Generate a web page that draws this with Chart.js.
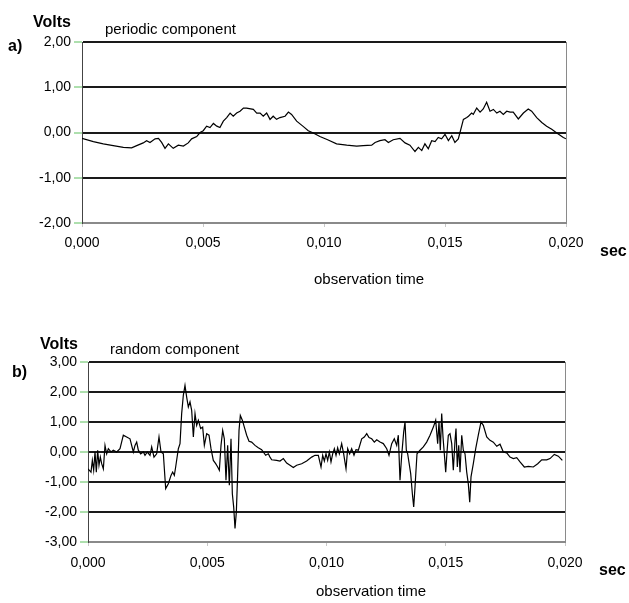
<!DOCTYPE html>
<html><head><meta charset="utf-8">
<script src="https://cdn.jsdelivr.net/npm/chart.js@4"></script>
<style>
html,body{margin:0;padding:0;background:#fff;}
body{width:629px;height:603px;position:relative;overflow:hidden;font-family:"Liberation Sans",Arial,sans-serif;color:#000;}
.box{position:absolute;left:0;width:629px;}
.lbl{position:absolute;white-space:nowrap;line-height:1;}
.b{font-weight:bold;font-size:16px;}
.n{font-size:15px;}
</style></head><body>
<div class="box" style="top:0;height:300px"><canvas id="c1" width="629" height="300"></canvas></div>
<div class="box" style="top:300px;height:303px"><canvas id="c2" width="629" height="303"></canvas></div>
<div class="lbl b" style="left:33px;top:14px">Volts</div>
<div class="lbl b" style="left:8px;top:38px">a)</div>
<div class="lbl n" style="left:105px;top:21px">periodic component</div>
<div class="lbl b" style="left:600px;top:243px">sec</div>
<div class="lbl n" style="left:314px;top:271px">observation time</div>
<div class="lbl b" style="left:40px;top:336px">Volts</div>
<div class="lbl b" style="left:12px;top:364px">b)</div>
<div class="lbl n" style="left:110px;top:341px">random component</div>
<div class="lbl b" style="left:599px;top:562px">sec</div>
<div class="lbl n" style="left:316px;top:583px">observation time</div>
<script>
// ---- data ----
const xTicks = [0, 0.005, 0.010, 0.015, 0.020];
const yTicksA = [-2, -1, 0, 1, 2];
const yTicksB = [-3, -2, -1, 0, 1, 2, 3];

// a) periodic component
const timesA = [0.00000,0.00047,0.00088,0.00129,0.00171,0.00205,0.00226,0.00253,0.00267,0.00281,0.00302,0.00316,0.00329,0.00343,0.00357,0.00377,0.00398,0.00419,0.00439,0.00453,0.00474,0.00488,0.00501,0.00515,0.00529,0.00543,0.00557,0.00570,0.00584,0.00598,0.00612,0.00625,0.00639,0.00653,0.00667,0.00680,0.00708,0.00722,0.00736,0.00749,0.00763,0.00777,0.00790,0.00804,0.00818,0.00839,0.00853,0.00866,0.00887,0.00915,0.00935,0.00956,0.00983,0.01015,0.01052,0.01094,0.01135,0.01162,0.01197,0.01211,0.01231,0.01252,0.01266,0.01286,0.01314,0.01335,0.01355,0.01376,0.01390,0.01404,0.01417,0.01431,0.01445,0.01459,0.01472,0.01486,0.01500,0.01514,0.01528,0.01541,0.01555,0.01562,0.01576,0.01590,0.01597,0.01610,0.01617,0.01631,0.01645,0.01658,0.01672,0.01686,0.01700,0.01714,0.01727,0.01741,0.01755,0.01769,0.01782,0.01803,0.01824,0.01844,0.01858,0.01879,0.01900,0.01920,0.01941,0.01962,0.01989,0.02000];
const voltsA = [-0.13,-0.20,-0.25,-0.29,-0.33,-0.34,-0.29,-0.23,-0.18,-0.22,-0.14,-0.13,-0.22,-0.35,-0.25,-0.35,-0.28,-0.30,-0.23,-0.14,-0.09,0.00,0.04,0.14,0.11,0.20,0.14,0.11,0.25,0.33,0.43,0.36,0.43,0.47,0.54,0.54,0.51,0.43,0.43,0.36,0.43,0.29,0.36,0.29,0.33,0.36,0.45,0.40,0.25,0.13,0.04,-0.01,-0.09,-0.16,-0.25,-0.28,-0.30,-0.29,-0.28,-0.22,-0.18,-0.16,-0.22,-0.16,-0.13,-0.23,-0.28,-0.42,-0.33,-0.40,-0.25,-0.36,-0.18,-0.20,-0.11,-0.14,-0.04,-0.18,-0.07,-0.22,-0.14,0.00,0.29,0.33,0.36,0.43,0.40,0.54,0.45,0.52,0.67,0.47,0.51,0.43,0.47,0.40,0.47,0.45,0.45,0.30,0.43,0.52,0.47,0.33,0.22,0.14,0.07,-0.01,-0.11,-0.14];

// b) random component
const timesB = [0.000000,0.000126,0.000182,0.000238,0.000294,0.000349,0.000405,0.000461,0.000517,0.000573,0.000643,0.000713,0.000783,0.000853,0.000964,0.001062,0.001202,0.001342,0.001481,0.001621,0.001761,0.001901,0.001971,0.002041,0.002110,0.002208,0.002320,0.002390,0.002488,0.002600,0.002670,0.002767,0.002879,0.002977,0.003061,0.003159,0.003257,0.003368,0.003480,0.003550,0.003620,0.003676,0.003788,0.003858,0.003927,0.003997,0.004067,0.004137,0.004207,0.004277,0.004347,0.004417,0.004487,0.004556,0.004626,0.004724,0.004808,0.004878,0.004976,0.005074,0.005157,0.005255,0.005353,0.005437,0.005507,0.005577,0.005647,0.005716,0.005786,0.005856,0.005926,0.005996,0.006052,0.006108,0.006164,0.006220,0.006276,0.006332,0.006387,0.006471,0.006555,0.006653,0.006751,0.006861,0.007002,0.007141,0.007281,0.007351,0.007449,0.007561,0.007631,0.007701,0.007910,0.008050,0.008190,0.008330,0.008470,0.008609,0.008749,0.008959,0.009168,0.009378,0.009518,0.009657,0.009770,0.009840,0.009910,0.009979,0.010049,0.010119,0.010189,0.010259,0.010329,0.010399,0.010468,0.010538,0.010636,0.010720,0.010818,0.010888,0.010971,0.011055,0.011153,0.011237,0.011335,0.011476,0.011585,0.011686,0.011783,0.011896,0.012005,0.012106,0.012244,0.012382,0.012525,0.012621,0.012734,0.012843,0.012944,0.013011,0.013082,0.013153,0.013237,0.013292,0.013347,0.013404,0.013530,0.013600,0.013656,0.013711,0.013753,0.013795,0.013921,0.014060,0.014200,0.014340,0.014480,0.014578,0.014661,0.014717,0.014772,0.014830,0.014885,0.014940,0.014998,0.015053,0.015108,0.015178,0.015250,0.015317,0.015389,0.015430,0.015485,0.015544,0.015598,0.015670,0.015737,0.015808,0.015879,0.015946,0.016005,0.016059,0.016156,0.016256,0.016365,0.016478,0.016575,0.016718,0.016856,0.016995,0.017138,0.017275,0.017414,0.017556,0.017695,0.017833,0.017976,0.018114,0.018294,0.018462,0.018672,0.018856,0.019024,0.019233,0.019372,0.019552,0.019720,0.019888];
const voltsB = [-0.56,-0.67,-0.28,-0.61,0.00,-0.67,0.06,-0.44,-0.17,-0.39,-0.56,0.22,-0.06,0.11,0.00,0.06,0.00,0.11,0.56,0.50,0.44,0.00,0.22,0.33,0.06,-0.06,0.00,-0.11,0.00,-0.11,0.17,-0.17,-0.06,0.50,0.00,-0.06,-1.22,-1.06,-0.78,-0.67,-0.78,-0.50,0.11,0.28,1.28,1.89,2.22,1.83,1.50,1.67,1.39,0.50,1.28,0.89,1.06,0.78,0.83,0.22,0.61,0.56,0.11,-0.28,-0.39,-0.50,-0.61,0.22,0.72,0.44,-0.94,0.22,-1.11,0.44,-1.39,-1.83,-2.55,-2.00,-0.72,0.72,1.22,1.06,0.83,0.56,0.36,0.33,0.22,0.14,0.08,0.00,-0.11,-0.06,-0.17,-0.26,-0.28,-0.30,-0.22,-0.37,-0.44,-0.52,-0.44,-0.39,-0.30,-0.17,-0.11,-0.11,-0.50,-0.11,-0.30,-0.06,-0.28,0.00,-0.33,-0.06,0.11,-0.11,0.14,-0.06,0.28,-0.06,-0.56,0.11,-0.06,0.11,-0.11,0.08,0.06,0.44,0.50,0.61,0.48,0.44,0.33,0.41,0.33,0.28,0.11,-0.11,0.28,0.44,0.22,0.56,-0.94,-0.11,0.67,1.00,0.06,-0.06,-0.72,-1.39,-1.83,-1.17,-0.61,-0.06,0.06,0.17,0.33,0.56,0.83,1.06,0.28,1.00,0.06,1.28,0.50,-0.06,-0.67,0.00,0.56,0.61,0.28,-0.61,0.39,0.78,-0.50,0.22,-0.67,0.56,0.06,-0.06,-0.67,-1.06,-1.67,-0.83,-0.39,0.11,0.56,1.00,0.89,0.50,0.39,0.33,0.19,0.26,0.00,-0.03,-0.17,-0.22,-0.19,-0.33,-0.50,-0.48,-0.50,-0.39,-0.26,-0.26,-0.22,-0.08,-0.14,-0.28];

// ---- chart builder ----
const FONT = '"Liberation Sans", Arial, sans-serif';
function makeChart(id, times, values, yTicks, area, canvasH, xPad) {
  const yMin = yTicks[0], yMax = yTicks[yTicks.length - 1];
  const xMin = xTicks[0], xMax = xTicks[xTicks.length - 1];
  return new Chart(document.getElementById(id), {
    type: 'line',
    data: { datasets: [{
      data: times.map((t, i) => ({ x: t, y: values[i] })),
      borderColor: '#000', borderWidth: 1.2, pointRadius: 0, tension: 0, fill: false
    }] },
    options: {
      responsive: false, animation: false, events: [],
      layout: { padding: { left: 0, top: area.top, right: 629 - area.right, bottom: 0 } },
      plugins: { legend: { display: false }, tooltip: { enabled: false }, title: { display: false } },
      scales: {
        x: {
          type: 'linear', min: xMin, max: xMax,
          afterBuildTicks: s => { s.ticks = xTicks.map(v => ({ value: v })); },
          ticks: { callback: v => Number(v).toFixed(3).replace('.', ','), color: '#000',
                   font: { family: FONT, size: 14 }, padding: xPad, maxRotation: 0, autoSkip: false },
          grid: {
            color: c => (c.tick && Math.abs(c.tick.value - xMax) < 1e-9) ? '#8a8a8a' : 'rgba(0,0,0,0)',
            tickColor: '#c8c8c8', tickLength: 4, lineWidth: 1
          },
          border: { color: '#8a8a8a', width: 1 },
          afterFit: s => { s.height = canvasH - area.bottom; }
        },
        y: {
          min: yMin, max: yMax,
          afterBuildTicks: s => { s.ticks = yTicks.map(v => ({ value: v })); },
          ticks: { callback: v => Number(v).toFixed(2).replace('.', ','), color: '#000',
                   font: { family: FONT, size: 14 }, padding: 3 },
          grid: {
            color: c => (c.tick && c.tick.value === yMin) ? '#8a8a8a' : '#1a1a1a',
            lineWidth: 2, tickColor: '#5cbf5c', tickLength: 8, tickWidth: 1
          },
          border: { color: '#444', width: 1 },
          afterFit: s => { s.width = area.left; }
        }
      }
    }
  });
}

makeChart('c1', timesA, voltsA, yTicksA, { left: 82, right: 566, top: 42, bottom: 223 }, 300, 8);
makeChart('c2', timesB, voltsB, yTicksB, { left: 88, right: 565, top: 62, bottom: 242 }, 303, 9);
</script>
</body></html>
